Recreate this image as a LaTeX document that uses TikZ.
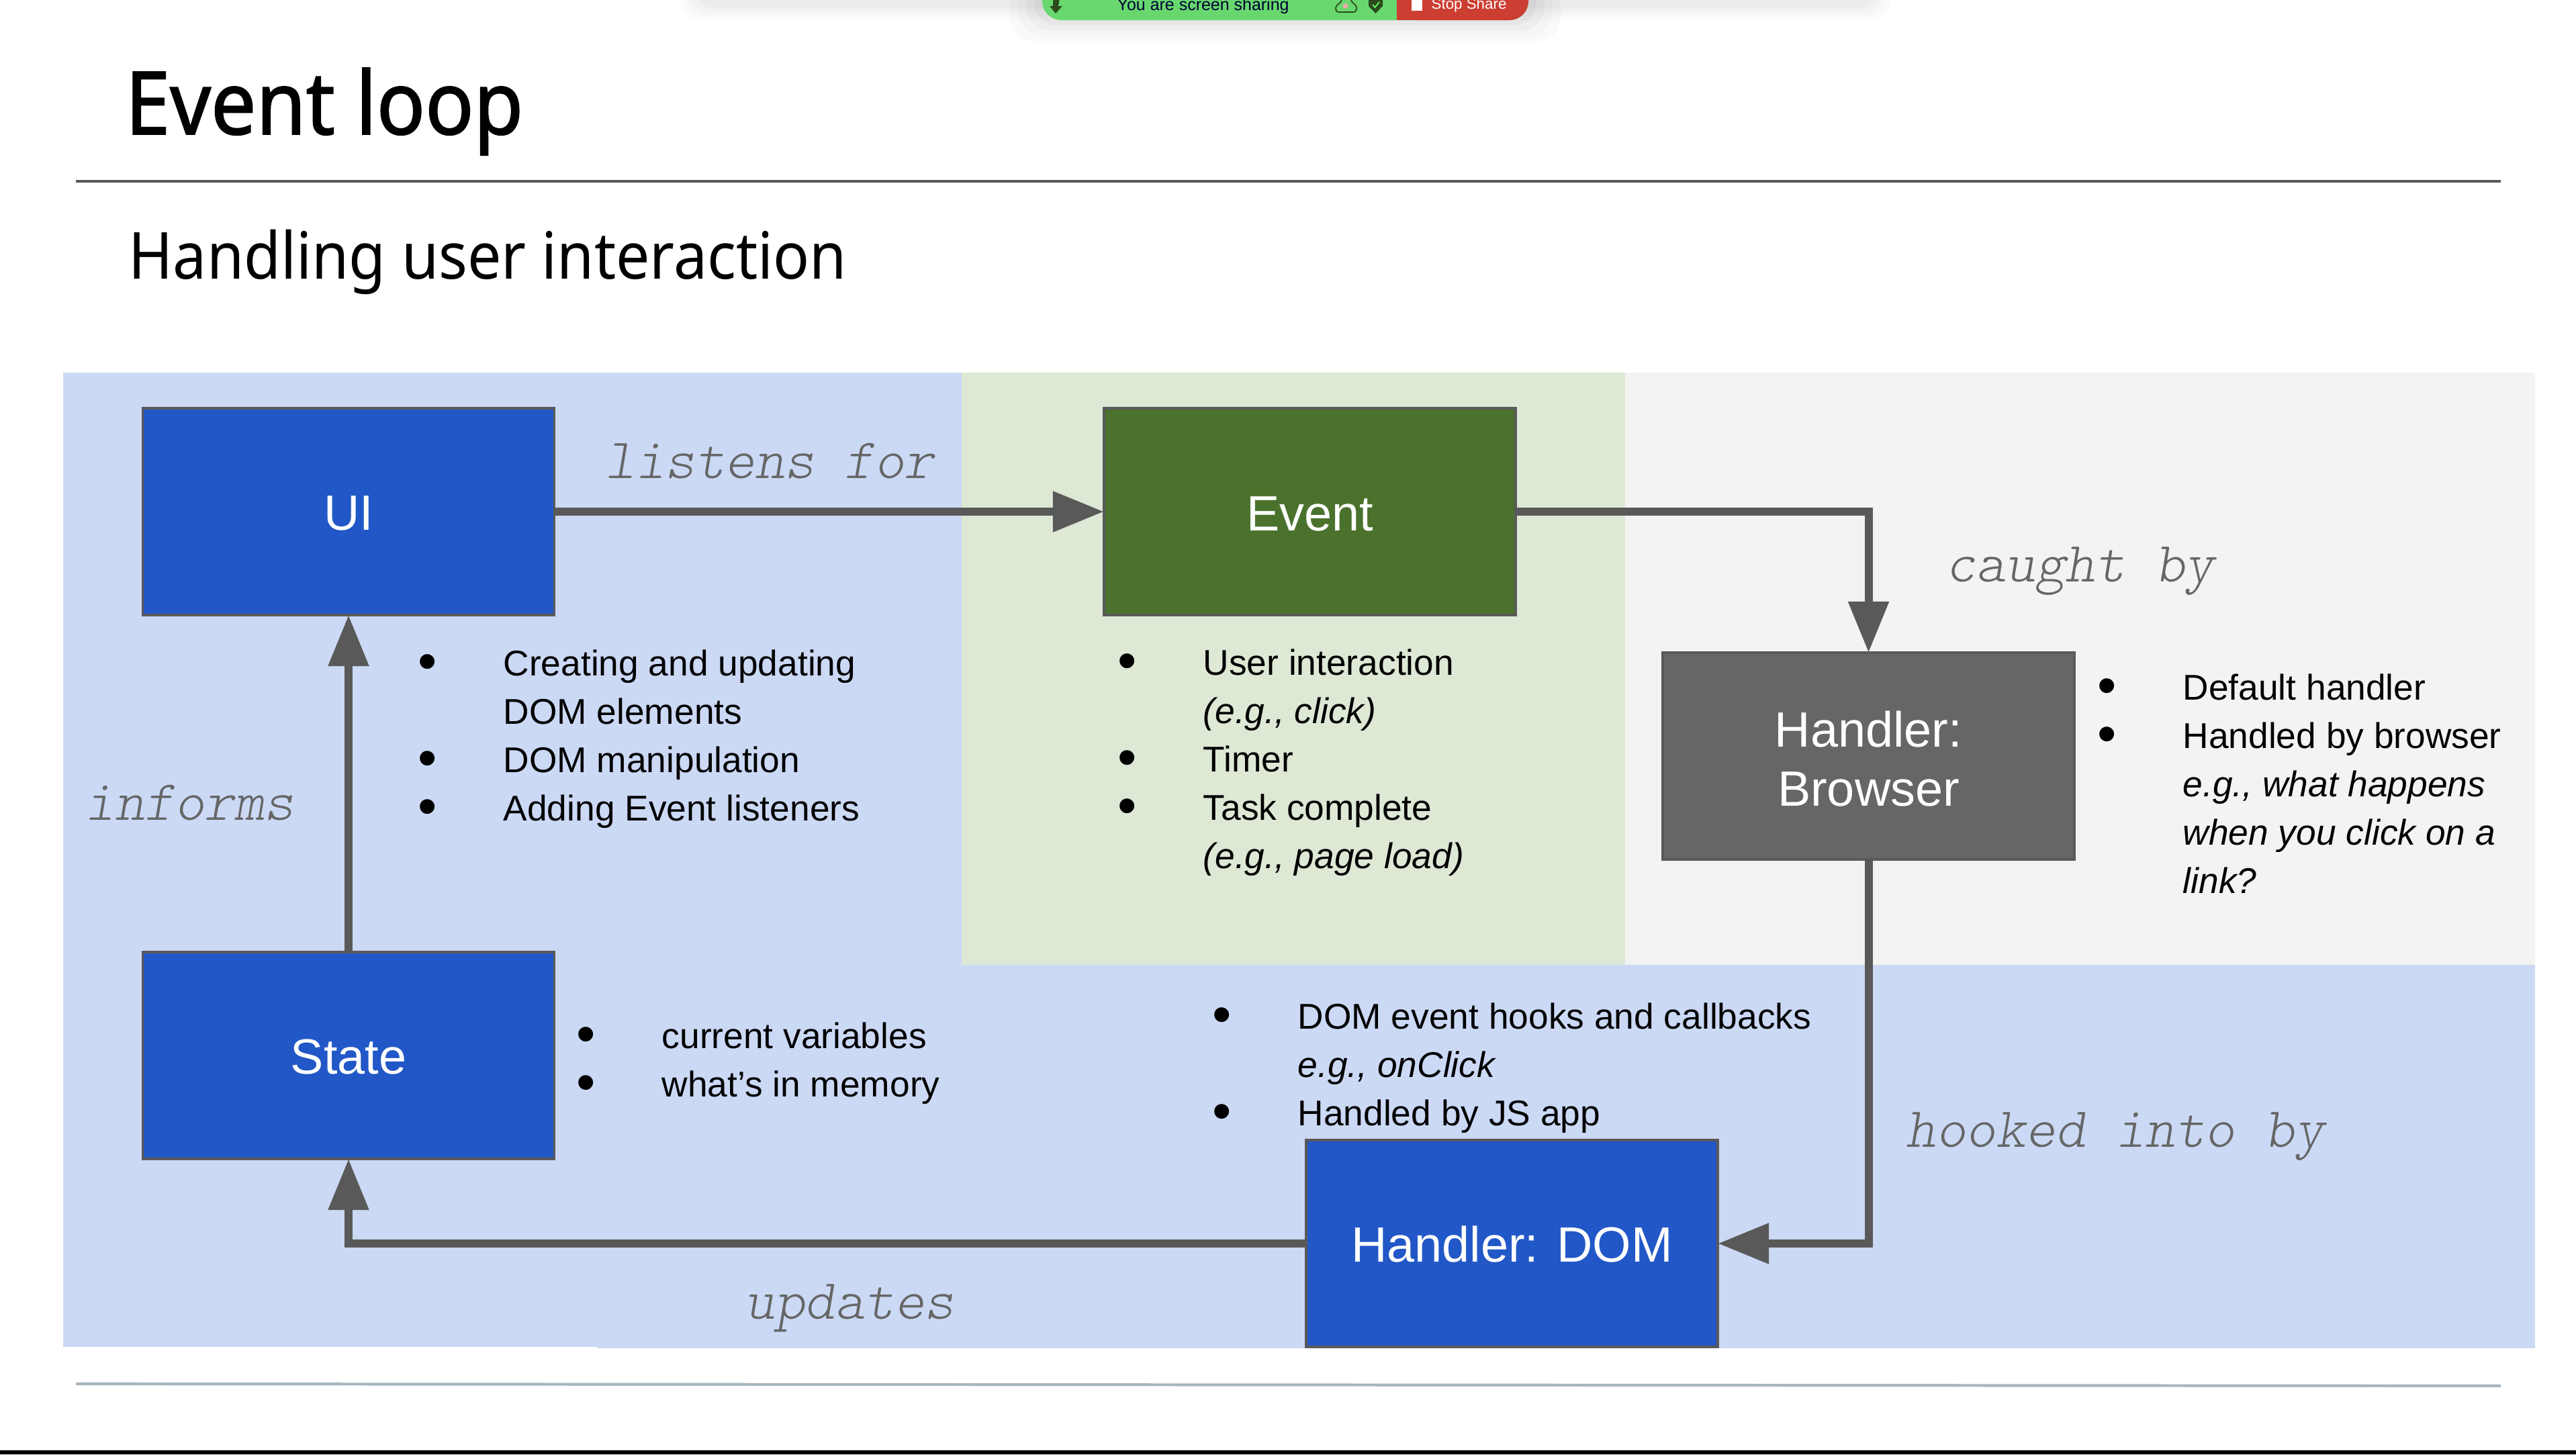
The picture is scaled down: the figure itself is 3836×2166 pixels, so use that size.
\documentclass[tikz,border=0pt]{standalone}
\usepackage{fontspec}
\usetikzlibrary{arrows.meta}
\setmainfont{Liberation Sans}
\newfontfamily\titlef[FakeStretch=0.925]{Noto Sans}
\newfontfamily\titleb[FakeStretch=0.92,FakeBold=1.4]{Noto Sans}
\newfontfamily\labelf{lmmonolt10-oblique.otf}
\definecolor{bgblue}{HTML}{CBD9F5}
\definecolor{bggreen}{HTML}{DDE8D5}
\definecolor{bggray}{HTML}{F3F3F3}
\definecolor{boxblue}{HTML}{2257C7}
\definecolor{boxgreen}{HTML}{4A722D}
\definecolor{boxgray}{HTML}{666666}
\definecolor{edge}{HTML}{595959}
\definecolor{barink}{HTML}{2B4A1C}
\newcommand{\li}[1]{\hbox{\llap{\fontsize{23}{23}\selectfont\raisebox{-1.9pt}{•}\hskip 28pt}#1}}
\newcommand{\lc}[1]{\hbox{#1}}
\newcommand{\blist}[1]{\vtop{\fontsize{15.16}{20.5}\selectfont\baselineskip=20.5pt\lineskiplimit=-20pt #1}}
\tikzset{
  px/.style={x=0.01cm,y=-0.01cm},
  flowbox/.style={draw=edge,line width=1pt,outer sep=0pt,minimum width=6.13cm,minimum height=3.08cm,inner sep=0,text=white,align=center,font=\fontsize{21}{24.9}\selectfont},
  conn/.style={draw=edge,line width=3.4pt,-{Triangle[length=21.6pt,width=16.5pt]}},
  verb/.style={anchor=base west,inner sep=0,text=boxgray,font=\labelf\fontsize{24.1}{24}\selectfont},
  listtext/.style={anchor=base west,inner sep=0,text=black},
  heading/.style={anchor=base west,inner sep=0,text=black},
}
\begin{document}
\begin{tikzpicture}[px]
\useasboundingbox (0,0) rectangle (3836,2166);
\fill[white] (0,0) rectangle (3836,2166);
% screen share bar shadows
\begin{scope}
\clip (0,0) rectangle (3836,2166);
\foreach \d/\o in {24/0.015,18/0.015,12/0.02,6/0.025}{
  \fill[black,opacity=\o,rounded corners=8] (1040-\d,-30) rectangle (2790+\d,6+\d);
  \fill[black,opacity=\o*1.3,rounded corners=10] (1552-2*\d,-30) rectangle (2276+2*\d,30+\d*1.3);
}
\fill[rounded corners=8,fill={rgb,255:red,104;green,216;blue,110}] (1552,-30) rectangle (2276,30);
\fill[rounded corners=8,fill={rgb,255:red,204;green,62;blue,50}] (2080,-30) rectangle (2276,30);
\fill[fill={rgb,255:red,204;green,62;blue,50}] (2080,-30) rectangle (2110,30);
\node[anchor=base west,inner sep=0,text=black!80!blue,font=\fontsize{7.1}{7}\selectfont] (sharetext) at (1663,15) {You are screen sharing};
\node[anchor=base west,inner sep=0,text=white,font=\fontsize{6.35}{6}\selectfont] (stoptext) at (2131,13) {Stop Share};
\fill[white] (2102,-2) rectangle (2118,16);
\fill[barink] (1568,-2) -- (1578,-2) -- (1576,9) -- (1582,9) -- (1572,20) -- (1563,9) -- (1568,9) -- cycle;
\draw[barink,line width=0.5pt] (1994,18) -- (2015,18) .. controls (2022,18) and (2022,8) .. (2014,4) .. controls (2012,-1) and (2010,-2) .. (2008,-2);
\draw[barink,line width=0.5pt] (1994,18) .. controls (1987,18) and (1987,8) .. (1996,4) .. controls (1998,-1) and (1999,-2) .. (2000,-2);
\fill[fill={rgb,255:red,236;green,170;blue,170}] (2003.5,9) circle (4);
\fill[barink] (2038,-2) -- (2059,-2) -- (2059,9) -- (2048.5,20) -- (2038,9) -- cycle;
\draw[green!60!white,line width=0.5pt] (2044,7) -- (2047.5,11) -- (2054,3);
\end{scope}
% headings
\node[heading,font=\titleb\fontsize{37}{40}\selectfont] (title) at (186,200) {Event loop};
\draw[line width=1pt,draw=edge] (113,270) -- (3724,270);
\node[heading,font=\titlef\fontsize{27.5}{30}\selectfont] (sub) at (191,415) {Handling user interaction};
% backgrounds
\fill[bgblue] (94,555) rectangle (3775,2008);
\fill[white] (94,2006) rectangle (890,2010);
\fill[bggreen] (1432,555) rectangle (2420,1437);
\fill[bggray] (2420,555) rectangle (3775,1437);
\draw[draw={rgb,255:red,168;green,182;blue,189},line width=1.2pt] (113,2061) -- (3724,2064);
\fill[black] (0,2160) rectangle (3836,2166);
% boxes
\node[flowbox,fill=boxblue] (ui) at (519,762) {\rule{0pt}{16pt}UI};
\node[flowbox,fill=boxgreen] (event) at (1950.5,762) {\rule{0pt}{16.5pt}Event};
\node[flowbox,fill=boxgray] (browser) at (2782.5,1126) {\rule{0pt}{17.6pt}Handler:\\Browser};
\node[flowbox,fill=boxblue] (state) at (519,1572) {\rule{0pt}{16pt}State};
\node[flowbox,fill=boxblue] (dom) at (2251.5,1852) {\rule{0pt}{16pt}Handler: DOM};
% connectors
\draw[conn] (ui.east) -- (event.west);
\draw[conn] (event.east) -| (browser.north);
\draw[conn] (browser.south) |- (dom.east);
\draw[conn] (dom.west) -| (state.south);
\draw[conn] (state.north) -- (ui.south);
% verbs
\node[verb] (v1) at (901,712) {listens for};
\node[verb] (v2) at (2897,866) {caught by};
\node[verb] (v3) at (126,1221) {informs};
\node[verb] (v4) at (1109,1964) {updates};
\node[verb] (v5) at (2838,1708) {hooked into by};
% lists
\node[listtext] (l1) at (749,1006) {\blist{\li{Creating and updating}\lc{DOM elements}\li{DOM manipulation}\li{Adding Event listeners}}};
\node[listtext] (l2) at (1791,1005) {\blist{\li{User interaction}\lc{\itshape (e.g., click)}\li{Timer}\li{Task complete}\lc{\itshape (e.g., page load)}}};
\node[listtext] (l3) at (3250,1042) {\blist{\li{Default handler}\li{Handled by browser}\lc{\itshape e.g., what happens}\lc{\itshape when you click on a}\lc{\itshape link?}}};
\node[listtext] (l4) at (985,1561) {\blist{\li{current variables}\li{what’s in memory}}};
\node[listtext] (l5) at (1932,1532) {\blist{\li{DOM event hooks and callbacks}\lc{\itshape e.g., onClick}\li{Handled by JS app}}};
\end{tikzpicture}
\end{document}
